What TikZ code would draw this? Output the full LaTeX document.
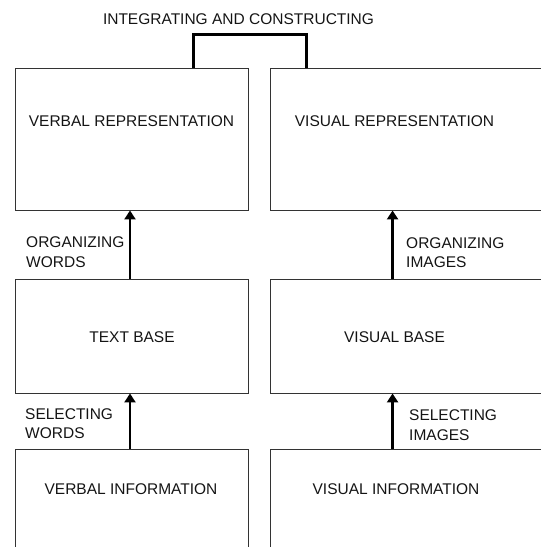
\documentclass[tikz,border=0pt]{standalone}
\usepackage{fontspec}
\setmainfont{Liberation Sans}
\usetikzlibrary{arrows.meta}
\begin{document}
\begin{tikzpicture}[x=1pt,y=-1pt,
  box/.style={draw=black!80, line width=0.9pt, inner sep=0pt},
  txt/.style={inner sep=0pt, font=\fontsize{15.5}{19.5}\selectfont, text=black!92},
  lbl/.style={txt, align=left, anchor=west},
  flow/.style={line width=2.8pt, -{Triangle[length=9pt,width=11pt]}},
  link/.style={line width=2.8pt}]
\useasboundingbox (0,0) rectangle (541,547);
\clip (0,0) rectangle (541,547);
% boxes
\node[box, minimum width=233pt, minimum height=142pt] (vrep) at (131.5,139) {};
\node[box, minimum width=290pt, minimum height=142pt] (irep) at (415,139) {};
\node[box, minimum width=233pt, minimum height=114pt] (tbase) at (131.5,336) {};
\node[box, minimum width=290pt, minimum height=114pt] (vbase) at (415,336) {};
\node[box, minimum width=233pt, minimum height=121pt] (vinfo) at (131.5,509.5) {};
\node[box, minimum width=290pt, minimum height=121pt] (iinfo) at (415,509.5) {};
% box texts
\node[txt] (t1) at (131.5,121) {VERBAL REPRESENTATION};
\node[txt] (t2) at (394.5,121) {VISUAL REPRESENTATION};
\node[txt] (t3) at (132,337) {TEXT BASE};
\node[txt] (t4) at (394.5,337) {VISUAL BASE};
\node[txt] (t5) at (131,489) {VERBAL INFORMATION};
\node[txt] (t6) at (396,489) {VISUAL INFORMATION};
% title
\node[txt] (title) at (238.5,19) {INTEGRATING AND CONSTRUCTING};
% labels
\node[lbl] (ow) at (26,252) {ORGANIZING\\WORDS};
\node[lbl] (oi) at (406,252.5) {ORGANIZING\\IMAGES};
\node[lbl] (sw) at (25,423.5) {SELECTING\\WORDS};
\node[lbl] (si) at (409,425) {SELECTING\\IMAGES};
% arrows
\draw[flow] ([xshift=-1.5pt]tbase.north) -- ([xshift=-1.5pt]vrep.south);
\draw[flow] ([xshift=-1.5pt]vinfo.north) -- ([xshift=-1.5pt]tbase.south);
\draw[flow] ([xshift=123pt]vbase.north west) -- ([xshift=123pt]irep.south west);
\draw[flow] ([xshift=123pt]iinfo.north west) -- ([xshift=123pt]vbase.south west);
% integrating bracket
\draw[link] ([xshift=179pt]vrep.north west) -- ++(0,-33) -| ([xshift=37pt]irep.north west);
\end{tikzpicture}
\end{document}
